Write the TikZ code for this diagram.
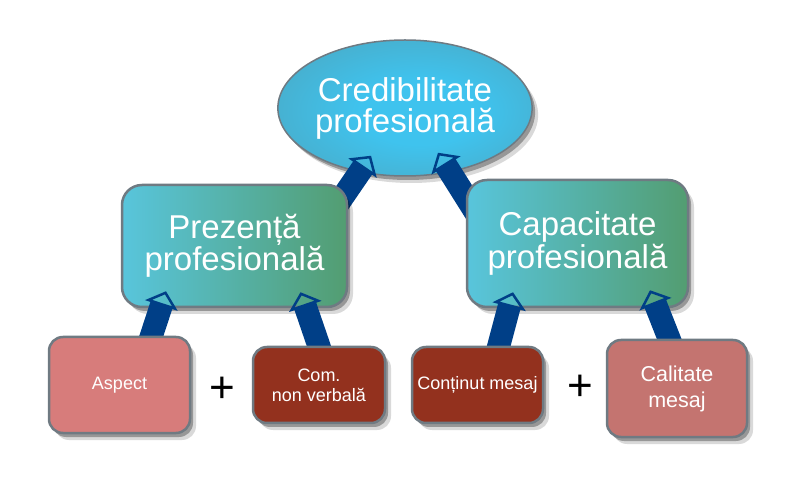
\documentclass[tikz,border=0pt]{standalone}
\usepackage{fontspec}
\setmainfont{Liberation Sans}
\usepackage{xcolor}
\definecolor{link-blue}{HTML}{003F87}
\definecolor{frame-gray}{HTML}{6F7A82}
\definecolor{cred-cyan}{HTML}{3FC3EE}
\definecolor{cred-mid}{HTML}{4AA9C4}
\definecolor{cred-edge}{HTML}{4E8189}
\definecolor{box-cyan}{HTML}{58C5DC}
\definecolor{box-green}{HTML}{539D71}
\definecolor{pale-rose}{HTML}{D77C7B}
\definecolor{dark-rose}{HTML}{C47470}
\definecolor{brick-red}{HTML}{93311E}
\usepackage{tikz}
\usetikzlibrary{shapes.geometric}
\usetikzlibrary{arrows.meta}
\usetikzlibrary{shadows}
\usetikzlibrary{calc}
\pgfdeclarelayer{back}
\pgfdeclarelayer{mid}
\pgfsetlayers{back,mid,main}
\pgfdeclareradialshading{cred-shade}{\pgfpoint{4bp}{-2bp}}{color(0bp)=(cred-cyan); color(12bp)=(cred-cyan); color(34bp)=(cred-mid); color(50bp)=(cred-edge)}
\tikzset{soft/.style = {drop shadow={shadow xshift=3pt, shadow yshift=-4pt, opacity=.3, fill=black}, drop shadow={shadow xshift=6pt, shadow yshift=-7pt, opacity=.15, fill=black}}}
\tikzset{goal/.style = {ellipse, draw=frame-gray, line width=1.5pt, shading=cred-shade, soft, inner sep=0pt, minimum width=244, minimum height=136, align=center, text=white, font=\fontsize{33}{31}\selectfont}}
\tikzset{area/.style = {rectangle, draw=frame-gray, line width=2.5pt, rounded corners=20pt, left color=box-cyan, right color=box-green, soft, align=center, text=white, font=\fontsize{33}{31}\selectfont}}
\tikzset{part/.style = {rectangle, draw=frame-gray, line width=2.5pt, rounded corners=14pt, soft, align=center, text=white, font=\fontsize{18}{20}\selectfont}}
\tikzset{arr/.style = {line width=23pt, draw=link-blue, -{Triangle[open, length=15pt, width=34pt, line width=2.5pt]}}}
\tikzset{plus/.style = {text=black, font=\fontsize{44}{44}\selectfont}}

\begin{document}
\begin{tikzpicture}[x=1pt, y=-1pt]
\useasboundingbox (0,0) rectangle (785,486);

\begin{pgfonlayer}{back}
\node[goal] (cred) at (405,108) {Credibilitate\\profesională};
\end{pgfonlayer}

\begin{pgfonlayer}{mid}
\node[area, minimum width=225, minimum height=122] (prez) at (234.5,246) {Prezență\\profesională};
\node[area, minimum width=221, minimum height=127] (capac) at (577.5,243.5) {Capacitate\\profesională};
\end{pgfonlayer}

\node[part, fill=pale-rose, minimum width=141, minimum height=96] (aspect) at (119.5,385) {Aspect};
\node[part, fill=brick-red, minimum width=132, minimum height=76] (comnv) at (319,385) {Com.\\non verbală};
\node[part, fill=brick-red, minimum width=131, minimum height=76] (contin) at (477.5,385) {Conținut mesaj};
\node[part, fill=dark-rose, minimum width=140, minimum height=97, font=\fontsize{21.5}{26}\selectfont] (calit) at (677,388.5) {Calitate\\mesaj};
\node[plus] (plus1) at (222,390) {+};
\node[plus] (plus2) at (580,388) {+};

% upper links run under the middle boxes
\begin{pgfonlayer}{back}
\draw[arr] ($(prez.north east)+(-17,30)$) -- ($(cred.south)+(-34,-21)$);
\draw[arr] ($(capac.north west)+(15,42)$) -- ($(cred.south)+(33,-24)$);
\end{pgfonlayer}

% lower links run under the small boxes
\begin{pgfonlayer}{mid}
\draw[arr] ($(aspect.north)+(26,18)$) -- ($(prez.south)+(-68.5,-17)$);
\draw[arr] ($(comnv.north)+(6,18)$) -- ($(prez.south)+(66,-16)$);
\draw[arr] ($(contin.north)+(16.5,18)$) -- ($(capac.south)+(-64.5,-16)$);
\draw[arr] ($(calit.north)+(0,20)$) -- ($(capac.south)+(72.5,-18)$);
\end{pgfonlayer}

\end{tikzpicture}
\end{document}
